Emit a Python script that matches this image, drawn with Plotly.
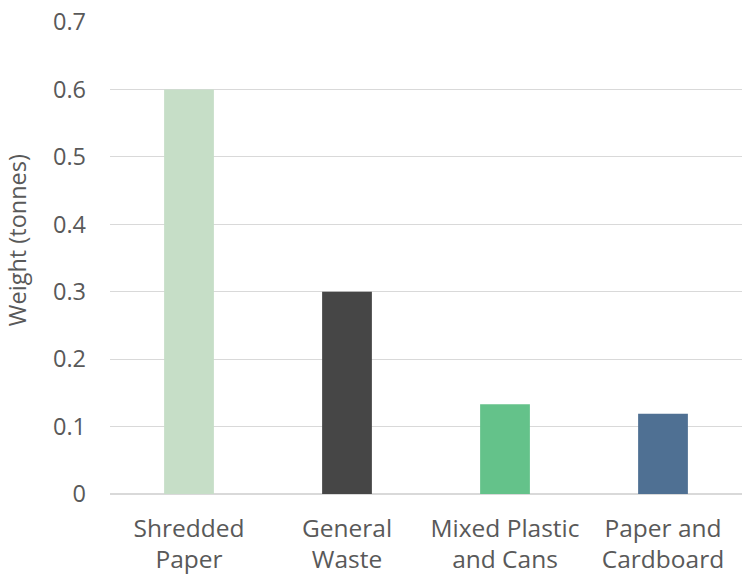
import plotly.graph_objects as go

categories = ["Shredded<br>Paper", "General<br>Waste", "Mixed Plastic<br>and Cans", "Paper and<br>Cardboard"]
weights = [0.6, 0.3, 0.133, 0.119]
colors = ["#C6DEC7", "#464646", "#64C28A", "#4F7093"]
yticks = [0, 0.1, 0.2, 0.3, 0.4, 0.5, 0.6, 0.7]
yticklabels = ["0", "0.1", "0.2", "0.3", "0.4", "0.5", "0.6", "0.7"]
y_title = "Weight (tonnes)"

fig = go.Figure(go.Bar(x=categories, y=weights, marker=dict(color=colors, line=dict(width=0)), width=0.315))

font_family = "Open Sans, sans-serif"
fig.update_layout(
    width=742, height=582,
    margin=dict(l=110, r=0, t=22, b=88),
    plot_bgcolor="white", paper_bgcolor="white",
    showlegend=False,
    font=dict(family=font_family, color="#595959", size=20),
    xaxis=dict(showgrid=False, showline=False, ticks="", tickfont=dict(size=24.5, color="#595959"), ticklabelstandoff=17),
    yaxis=dict(range=[0, 0.7], tickvals=yticks, ticktext=yticklabels, showgrid=True, gridcolor="#D9D9D9", gridwidth=1,
               zeroline=True, zerolinecolor="#D9D9D9", zerolinewidth=1.5, showline=False, ticks="",
               tickfont=dict(size=23.5, color="#595959"), ticklabelstandoff=23),
    annotations=[dict(text=y_title, textangle=-90, xref="paper", yref="paper", x=-0.147, y=0.538,
                      xanchor="center", yanchor="middle", showarrow=False,
                      font=dict(size=23.5, color="#595959"))],
)
fig.write_html("out.html")
